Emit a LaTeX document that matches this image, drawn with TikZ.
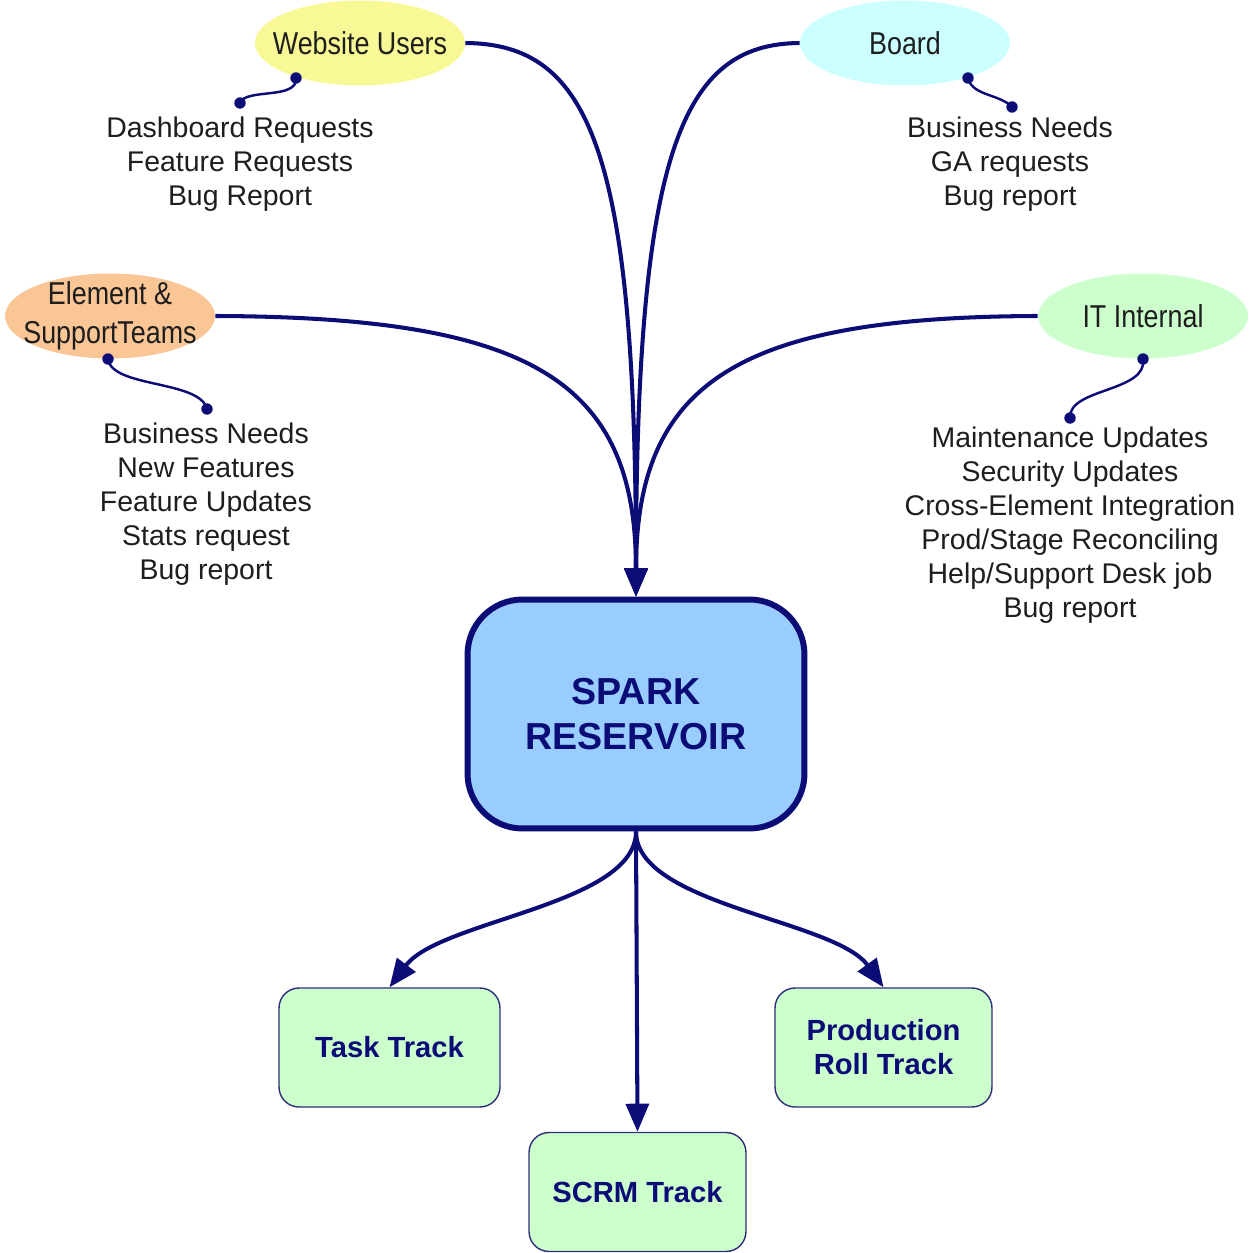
\documentclass[tikz,border=0pt]{standalone}
\usepackage{fontspec}
\setmainfont{Liberation Sans}
\newfontfamily\narrowfont[FakeStretch=0.85]{Liberation Sans}
\usetikzlibrary{arrows.meta,shapes.geometric}
\definecolor{navy}{RGB}{12,12,118}
\definecolor{yellowfill}{RGB}{248,248,150}
\definecolor{cyanfill}{RGB}{204,255,255}
\definecolor{orangefill}{RGB}{250,198,150}
\definecolor{greenfill}{RGB}{204,255,204}
\definecolor{bluefill}{RGB}{153,204,255}
\definecolor{txt}{RGB}{30,30,30}
\tikzset{
  bubble/.style={ellipse, minimum width=4.2cm, minimum height=1.7cm, inner sep=0pt},
  bubbletext/.style={font=\narrowfont\fontsize{18}{21}\selectfont, text=txt, align=center, inner sep=0pt},
  listtext/.style={font=\fontsize{16.2}{19.4}\selectfont, text=txt, align=center, inner sep=0pt},
  flow/.style={draw=navy, line width=2.3pt, -{Triangle[length=16pt,width=13pt]}},
  note/.style={draw=navy, line width=1.4pt},
  dot/.style={fill=navy, circle, inner sep=0pt, minimum size=6.5pt},
  track/.style={draw=navy!70!gray, line width=0.8pt, fill=greenfill, rounded corners=0.4cm,
    minimum height=2.38cm, text=navy, font=\bfseries\fontsize{16.6}{19.4}\selectfont, align=center}
}
\begin{document}
\begin{tikzpicture}[x=0.02cm, y=-0.02cm]
\useasboundingbox (0,0) rectangle (1250,1253);

% source bubbles
\node[bubble, fill=yellowfill, label={[bubbletext]center:Website Users}] (wu) at (360,43) {};
\node[bubble, fill=cyanfill, label={[bubbletext]center:Board}] (bd) at (905,43) {};
\node[bubble, fill=orangefill, label={[bubbletext]center:{Element \&\\[1pt]SupportTeams}}] (el) at (110,316) {};
\node[bubble, fill=greenfill, label={[bubbletext]center:IT Internal}] (it) at (1143,316) {};

% central box
\node[draw=navy, line width=3.4pt, fill=bluefill, rounded corners=1.1cm,
  minimum width=6.74cm, minimum height=4.58cm, text=navy, align=center,
  font=\bfseries\fontsize{21.4}{26}\selectfont] (sp) at (636,714) {SPARK\\RESERVOIR};

% tracks
\node[track, minimum width=4.42cm] (tt) at (389.5,1047.5) {Task Track};
\node[track, minimum width=4.34cm] (sc) at (637.5,1192) {SCRM Track};
\node[track, minimum width=4.34cm] (pr) at (883.5,1047.5) {Production\\Roll Track};

% lists
\node[listtext] (l1) at (240,164) {Dashboard Requests\\Feature Requests\\Bug Report};
\node[listtext] (l2) at (1010,164) {Business Needs\\GA requests\\Bug report};
\node[listtext] (l3) at (206,504) {Business Needs\\New Features\\Feature Updates\\Stats request\\Bug report};
\node[listtext] (l4) at (1070,525) {Maintenance Updates\\Security Updates\\Cross-Element Integration\\Prod/Stage Reconciling\\Help/Support Desk job\\Bug report};

% converging connectors
\draw[flow] (wu.east) .. controls (590,44) and (636,150) .. (sp.north);
\draw[flow] (bd.west) .. controls (682,44) and (636,150) .. (sp.north);
\draw[flow] (el.east) .. controls (530,317) and (636,380) .. (sp.north);
\draw[flow] (it.west) .. controls (742,317) and (636,380) .. (sp.north);

% diverging connectors
\draw[flow] (sp.south) .. controls (636,905) and (440,920) .. (tt.north);
\draw[flow] (sp.south) -- (sc.north);
\draw[flow] (sp.south) .. controls (636,905) and (835,920) .. (pr.north);

% note connectors
\coordinate (a1) at (296,78);
\coordinate (a2) at (240,103);
\coordinate (b1) at (968,78);
\coordinate (b2) at (1012,107);
\coordinate (c1) at (108,359);
\coordinate (c2) at (207,409);
\coordinate (d1) at (1143,359);
\coordinate (d2) at (1070,418);
\draw[note] (a1) .. controls (298,100) and (245,88) .. (a2);
\draw[note] (b1) .. controls (972,96) and (1000,94) .. (b2);
\draw[note] (c1) .. controls (112,388) and (200,380) .. (c2);
\draw[note] (d1) .. controls (1148,392) and (1068,388) .. (d2);
\foreach \p in {a1,a2,b1,b2,c1,c2,d1,d2} \node[dot] at (\p) {};
\end{tikzpicture}
\end{document}
